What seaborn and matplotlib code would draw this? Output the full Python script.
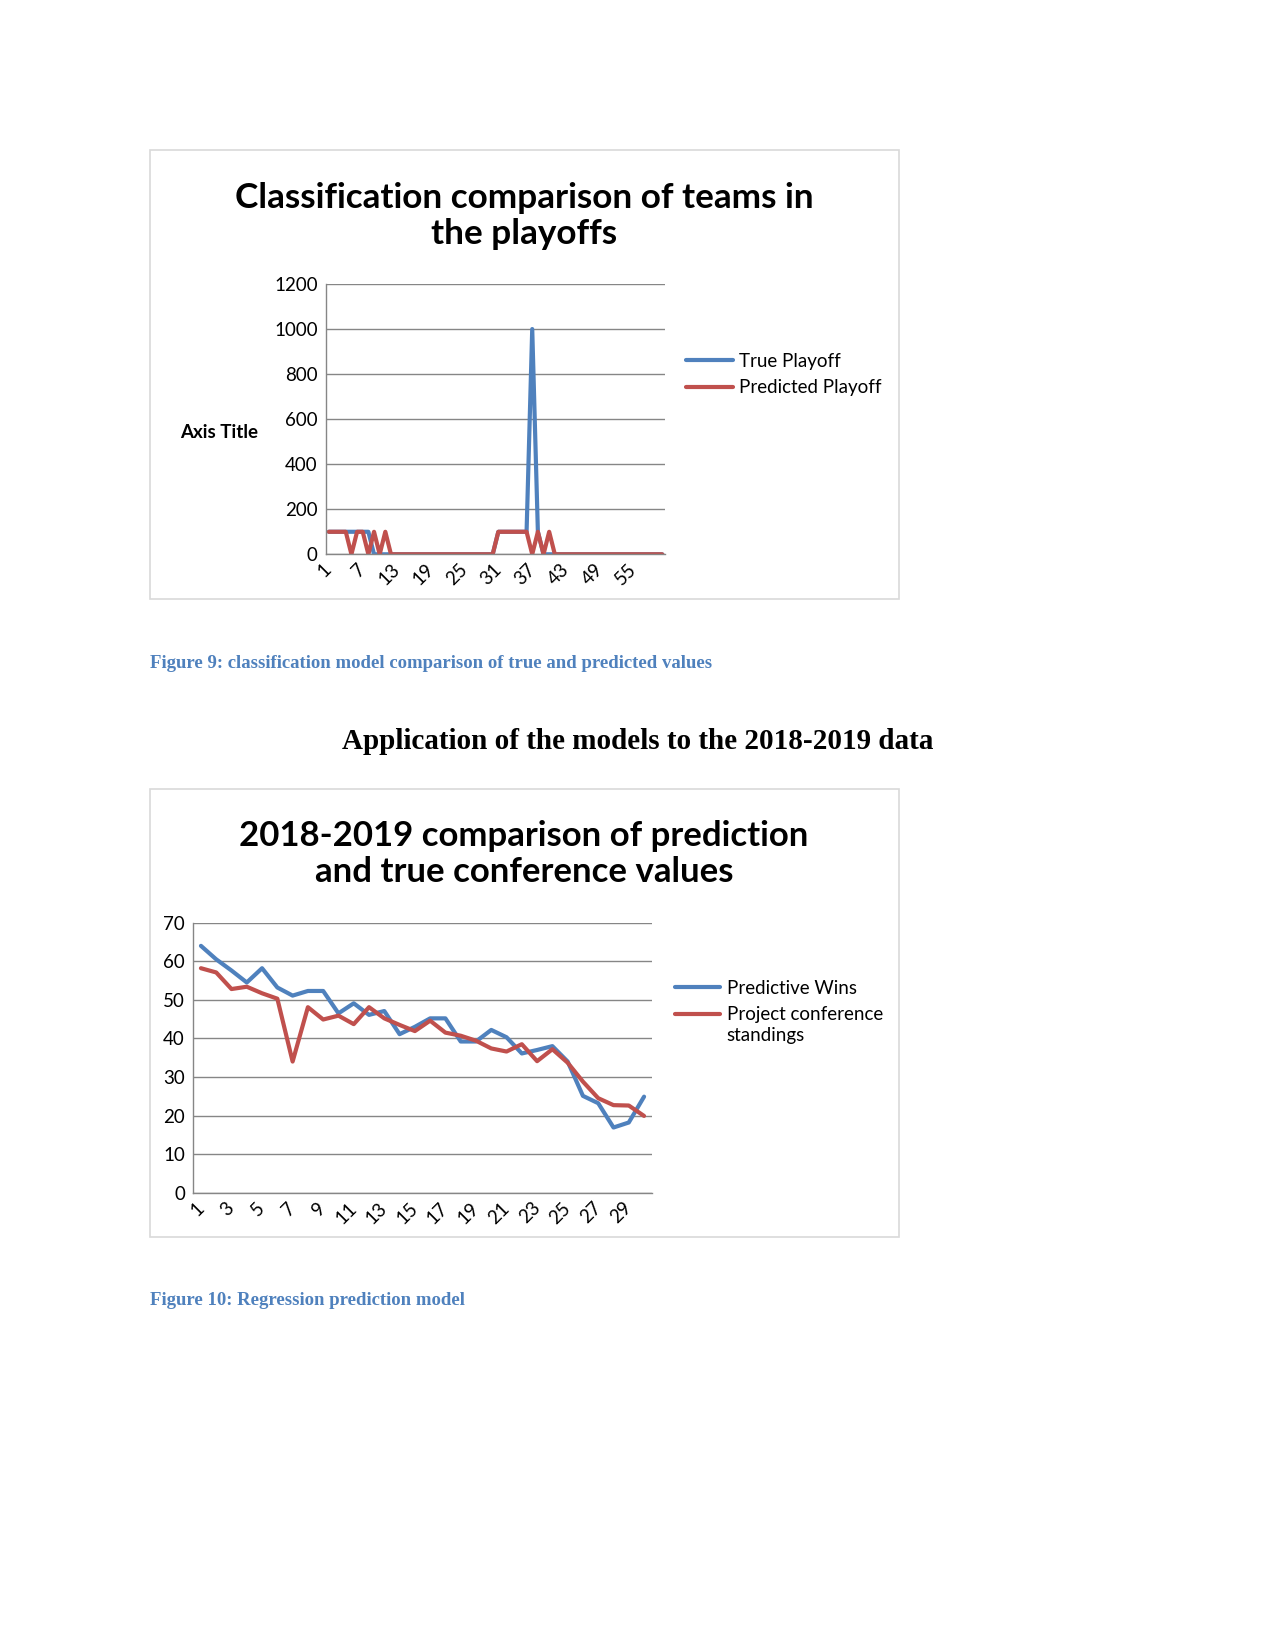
import matplotlib
matplotlib.use("Agg")
import matplotlib.pyplot as plt
import seaborn as sns
from matplotlib.patches import Rectangle

# ---- chart 1: classification (playoffs) ----
teams = list(range(1, 61))
true_playoff = [100, 100, 100, 100, 100, 100, 100, 100, 0, 0,
                0, 0, 0, 0, 0, 0, 0, 0, 0, 0,
                0, 0, 0, 0, 0, 0, 0, 0, 0, 0,
                100, 100, 100, 100, 100, 100, 1000, 100, 0, 0,
                0, 0, 0, 0, 0, 0, 0, 0, 0, 0,
                0, 0, 0, 0, 0, 0, 0, 0, 0, 0]
pred_playoff = [100, 100, 100, 100, 0, 100, 100, 0, 100, 0,
                100, 0, 0, 0, 0, 0, 0, 0, 0, 0,
                0, 0, 0, 0, 0, 0, 0, 0, 0, 0,
                100, 100, 100, 100, 100, 100, 0, 100, 0, 100,
                0, 0, 0, 0, 0, 0, 0, 0, 0, 0,
                0, 0, 0, 0, 0, 0, 0, 0, 0, 0]
ticks1 = [1, 7, 13, 19, 25, 31, 37, 43, 49, 55]
yticks1 = [0, 200, 400, 600, 800, 1000, 1200]

# ---- chart 2: 2018-2019 regression ----
ranks = list(range(1, 31))
predictive_wins = [64.0, 60.5, 57.6, 54.5, 58.2, 53.2, 51.1, 52.3, 52.3, 46.5,
                   49.1, 46.1, 47.1, 41.1, 43.0, 45.2, 45.2, 39.2, 39.2, 42.2,
                   40.3, 36.1, 37.0, 38.0, 34.0, 25.1, 23.2, 16.9, 18.2, 24.9]
conference_standings = [58.2, 57.1, 52.8, 53.4, 51.7, 50.3, 34.0, 48.1, 44.9, 45.9,
                        43.7, 48.1, 45.2, 43.5, 41.9, 44.6, 41.5, 40.7, 39.4, 37.4,
                        36.6, 38.5, 34.1, 37.2, 33.7, 28.8, 24.5, 22.7, 22.6, 19.9]
ticks2 = [1, 3, 5, 7, 9, 11, 13, 15, 17, 19, 21, 23, 25, 27, 29]
yticks2 = [0, 10, 20, 30, 40, 50, 60, 70]

BLUE = "#4F81BD"
RED = "#C0504D"
GRID = "#868686"
CAP = "#4F81BD"
LW = 3.0
FS = 13.5

sns.set_style("white")
plt.rcParams['font.family'] = ['Lato', 'DejaVu Sans']
plt.rcParams['text.color'] = 'black'

W, H = 1275, 1651
fig = plt.figure(figsize=(W / 100, H / 100), dpi=100)


def fx(px):
    return px / W


def fy(py):
    return 1 - py / H


def box(x0, y0, x1, y1):
    fig.patches.append(Rectangle((fx(x0), fy(y1)), fx(x1) - fx(x0), (y1 - y0) / H,
                                 transform=fig.transFigure, fill=False,
                                 edgecolor="#d9d9d9", linewidth=1.2))


def style_axes(ax, xticks, yticks, n):
    ax.set_xlim(0.5, n + 0.5)
    ax.set_ylim(yticks[0], yticks[-1])
    ax.set_yticks(yticks)
    ax.set_xticks(xticks)
    ax.set_xticklabels([str(t) for t in xticks], rotation=45, ha="right",
                       va="center", rotation_mode="anchor")
    ax.tick_params(axis="both", length=0, labelsize=FS, colors="black")
    ax.tick_params(axis="x", pad=9)
    ax.tick_params(axis="y", pad=6)
    ax.yaxis.grid(True, color=GRID, linewidth=1.0)
    ax.xaxis.grid(False)
    for s in ["top", "right"]:
        ax.spines[s].set_visible(False)
    for s in ["left", "bottom"]:
        ax.spines[s].set_color(GRID)
        ax.spines[s].set_linewidth(1.0)
    ax.set_xlabel("")
    ax.set_ylabel("")
    ax.set_facecolor("none")


# chart 1
box(150, 150, 899, 599)
ax1 = fig.add_axes([fx(326), fy(554.3), fx(665) - fx(326), (554.3 - 284) / H])
sns.lineplot(x=teams, y=true_playoff, ax=ax1, color=BLUE, linewidth=LW, label="True Playoff")
sns.lineplot(x=teams, y=pred_playoff, ax=ax1, color=RED, linewidth=LW, label="Predicted Playoff")
style_axes(ax1, ticks1, yticks1, len(teams))
ax1.legend(loc="upper left", bbox_to_anchor=(fx(686), fy(353)), bbox_transform=fig.transFigure,
           frameon=False, fontsize=FS, handlelength=2.53, handletextpad=0.28,
           labelspacing=0.5, borderpad=0, borderaxespad=0)
fig.text(fx(524), fy(216), "Classification comparison of teams in\nthe playoffs",
         ha="center", va="center", fontsize=25.3, fontweight="bold", linespacing=1.18)
fig.text(fx(219), fy(432), "Axis Title", ha="center", va="center", fontsize=FS, fontweight="bold")

fig.text(fx(150.5), fy(663), "Figure 9: classification model comparison of true and predicted values",
         ha="left", va="center", fontsize=13.5, fontweight="bold", color=CAP,
         family="Liberation Serif")
fig.text(fx(637.5), fy(741), "Application of the models to the 2018-2019 data",
         ha="center", va="center", fontsize=21, fontweight="bold", color="black",
         family="Liberation Serif")

# chart 2
box(150, 789, 899, 1237)
ax2 = fig.add_axes([fx(193.3), fy(1192.7), fx(651.7) - fx(193.3), (1192.7 - 922.7) / H])
sns.lineplot(x=ranks, y=predictive_wins, ax=ax2, color=BLUE, linewidth=LW, label="Predictive Wins")
sns.lineplot(x=ranks, y=conference_standings, ax=ax2, color=RED, linewidth=LW,
             label="Project conference")
style_axes(ax2, ticks2, yticks2, len(ranks))
leg2 = ax2.legend(loc="upper left", bbox_to_anchor=(fx(675), fy(980)), bbox_transform=fig.transFigure,
                  frameon=False, fontsize=FS, handlelength=2.42, handletextpad=0.34,
                  labelspacing=0.5, borderpad=0, borderaxespad=0)
fig.text(fx(524), fy(854), "2018-2019 comparison of prediction\nand true conference values",
         ha="center", va="center", fontsize=25, fontweight="bold", linespacing=1.18)

fig.text(fx(150.5), fy(1300), "Figure 10: Regression prediction model",
         ha="left", va="center", fontsize=13.5, fontweight="bold", color=CAP,
         family="Liberation Serif")

# second line of the wrapped legend label, placed under the legend text
fig.canvas.draw()
bb = leg2.get_texts()[1].get_window_extent()
fig.text(bb.x0 / W, (bb.y0 - 20.5) / H, "standings", ha="left", va="bottom",
         fontsize=FS, color="black")

fig.savefig("out.png", dpi=100, facecolor="white")
